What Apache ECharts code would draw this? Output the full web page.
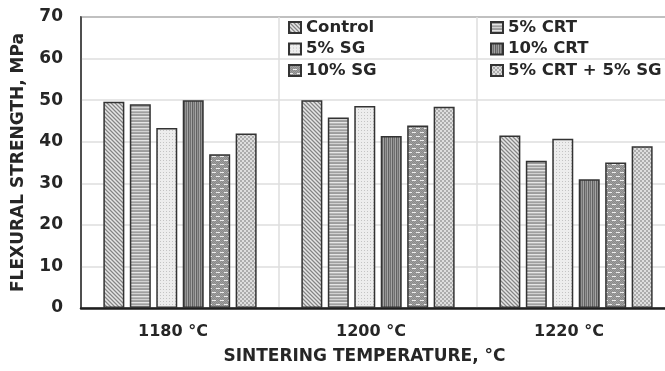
<!DOCTYPE html>
<html><head><meta charset="utf-8">
<script src="https://cdn.jsdelivr.net/npm/echarts@6/dist/echarts.min.js"></script>
<style>html,body{margin:0;padding:0;background:#fff;overflow:hidden}#c{width:675px;height:371px}</style>
</head><body><div id="c"></div>
<script>
const categories = ['1180 °C', '1200 °C', '1220 °C'];
const seriesNames = ['Control', '5% CRT', '5% SG', '10% CRT', '10% SG', '5% CRT + 5% SG'];
const control = [49.6, 50.0, 41.5];
const crt5 = [49.0, 45.8, 35.4];
const sg5 = [43.3, 48.6, 40.7];
const crt10 = [50.0, 41.4, 31.0];
const sg10 = [37.0, 43.9, 35.0];
const crt5sg5 = [42.0, 48.4, 38.9];
const yTicks = [0, 10, 20, 30, 40, 50, 60, 70];
const seriesData = [control, crt5, sg5, crt10, sg10, crt5sg5];

function mk(w, h, draw) {
  const c = document.createElement('canvas'); c.width = w; c.height = h;
  const g = c.getContext('2d'); draw(g); return { image: c, repeat: 'repeat' };
}
function px(g, x, y, col) { g.fillStyle = col; g.fillRect(x, y, 1, 1); }
const patterns = [
  mk(4, 4, g => { g.fillStyle = '#bdbdbd'; g.fillRect(0,0,4,4); for (let i=0;i<4;i++){px(g,i,i,'#858585'); px(g,(i+2)%4,i,'#e6e6e6');} }),
  mk(1, 6, g => { const cs=['#a2a2a2','#9c9c9c','#e6e6e6','#b6b6b6','#a0a0a0','#d2d2d2']; cs.forEach((c,i)=>px(g,0,i,c)); }),
  mk(3, 3, g => { g.fillStyle = '#ededed'; g.fillRect(0,0,3,3); px(g,1,1,'#c4c4c4'); }),
  mk(4, 1, g => { const cs=['#626262','#929292','#707070','#a4a4a4']; cs.forEach((c,i)=>px(g,i,0,c)); }),
  mk(8, 8, g => { g.fillStyle = '#a0a0a0'; g.fillRect(0,0,8,8);
    for (let y=0;y<8;y++) for (let x=0;x<8;x++) if ((x+y)%2===0) px(g,x,y,'#8a8a8a');
    g.fillStyle='#eeeeee'; g.fillRect(0,0,4,1); g.fillRect(4,4,4,1); }),
  mk(4, 4, g => { g.fillStyle = '#dedede'; g.fillRect(0,0,4,4); g.fillStyle='#acacac'; g.fillRect(0,0,2,2); g.fillRect(2,2,2,2); })
];

const chart = echarts.init(document.getElementById('c'), null, { renderer: 'canvas' });
const font = 'DejaVu Sans';
const txt = '#262626';
const legendText = { fontFamily: font, fontWeight: 'bold', fontSize: 16.5, color: txt, lineHeight: 17 };
chart.setOption({
  animation: false,
  grid: { left: 81, top: 17, right: 0, bottom: 63, show: true, borderColor: '#3a3a3a', borderWidth: 1.5, backgroundColor: 'transparent' },
  legend: [
    { data: [seriesNames[0], seriesNames[2], seriesNames[4]], left: 283, top: 14, orient: 'vertical', itemGap: 4.5, itemWidth: 12, itemHeight: 11, icon: 'rect', textStyle: legendText },
    { data: [seriesNames[1], seriesNames[3], seriesNames[5]], left: 485, top: 14, orient: 'vertical', itemGap: 4.5, itemWidth: 12, itemHeight: 11, icon: 'rect', textStyle: legendText }
  ],
  xAxis: {
    type: 'category', data: categories,
    axisLine: { lineStyle: { color: '#1e1e1e', width: 2.5 } },
    axisTick: { show: false },
    splitLine: { show: true, lineStyle: { color: '#dedede', width: 1.5 } },
    axisLabel: { fontFamily: font, fontWeight: 'bold', fontSize: 16, color: txt, margin: 16, padding: [0, 14, 0, 0] },
    name: 'SINTERING TEMPERATURE, °C', nameLocation: 'middle', nameGap: 40,
    nameTextStyle: { fontFamily: font, fontWeight: 'bold', fontSize: 17, color: txt, padding: [0, 27, 0, 0] }
  },
  yAxis: {
    type: 'value', min: 0, max: 70, interval: 10,
    axisLine: { show: true, lineStyle: { color: '#2a2a2a', width: 1.5 } },
    axisTick: { show: false },
    splitLine: { lineStyle: { color: '#dedede', width: 1.5 } },
    axisLabel: { fontFamily: font, fontWeight: 'bold', fontSize: 17, color: txt, margin: 18,
      formatter: v => yTicks.includes(v) ? String(v) : '' },
    name: 'FLEXURAL STRENGTH, MPa', nameLocation: 'middle', nameGap: 54, nameRotate: 90,
    nameTextStyle: { fontFamily: font, fontWeight: 'bold', fontSize: 17, color: txt }
  },
  series: seriesNames.map((n, i) => ({
    name: n, type: 'bar', data: seriesData[i], barWidth: 21, barGap: '26%',
    itemStyle: { color: patterns[i], borderColor: '#333', borderWidth: 1.5 }
  }))
});
</script></body></html>
